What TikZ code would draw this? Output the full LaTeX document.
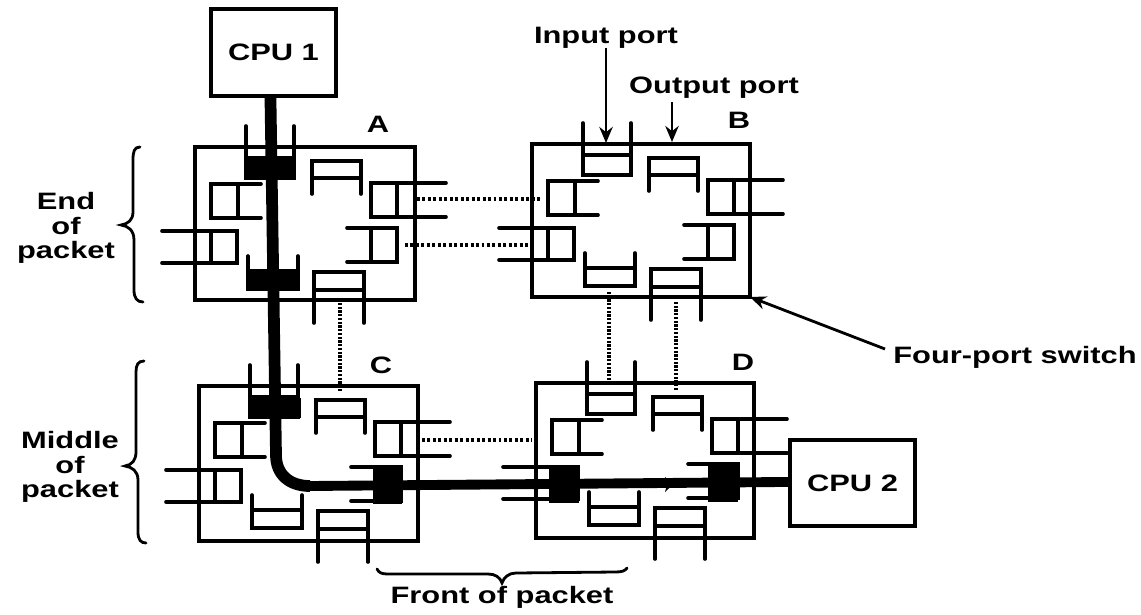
\documentclass[tikz,border=0pt]{standalone}
\usepackage{fontspec}
\setmainfont[FakeStretch=1.3]{Liberation Sans}
\usetikzlibrary{arrows.meta}
\tikzset{
  switchbox/.style={draw=black,line width=2.5pt,inner sep=0pt,outer sep=0pt,anchor=north west,minimum width=#1},
  cpubox/.style={draw=black,line width=2.5pt,inner sep=0pt,outer sep=0pt,align=center,font=\lbl},
  portline/.style={draw=black,line width=2.7pt,line cap=round},
  portfill/.style={fill=black},
  packet/.style={draw=black,line width=8.8pt},
  packetthin/.style={draw=black,line width=7.4pt},
  dotsh/.style={draw=black,line width=2.7pt,dash pattern=on 2.2pt off 1.9pt},
  dotsv/.style={draw=black,line width=2.8pt,dash pattern=on 1.7pt off 1.1pt},
  callout/.style={draw=black,line width=2.1pt,-{Stealth[length=12pt,width=10pt]}},
  brc/.style={draw=black,line width=2.1pt,line cap=round},
  lbl/.style={inner sep=0pt,outer sep=0pt,font=\lbl},
  lblup/.style={inner sep=0pt,outer sep=0pt,anchor=base,font=\lbl},
  stack/.style={inner sep=0pt,outer sep=0pt,align=center,font=\lbl}
}
\newcommand{\lbl}{\fontsize{17.8}{18.4}\selectfont\bfseries}
% #1 name, #2 x, #3 y, #4 width px, #5 height px
\newcommand{\mkswitch}[5]{%
  \node[switchbox=#4*0.75pt,minimum height=#5*0.75pt] (#1) at (#2,#3) {};
  \begin{scope}[shift={(#2,#3)}]
    % top outer (input)
    \draw[portline] (51,-21) -- (51,31) -- (99,31) -- (99,-21) (51,11) -- (99,11);
    % top inner
    \draw[portline] (117,47) -- (117,14) -- (166,14) -- (166,47) (117,31) -- (166,31);
    % left inner
    \draw[portline] (66,37) -- (16,37) -- (16,71) -- (66,71) (43,37) -- (43,71);
    % left outer
    \draw[portline] (-33,84) -- (42,84) -- (42,116) -- (-33,116) (16,84) -- (16,116);
    % right outer
    \draw[portline] (251,36) -- (176,36) -- (176,70) -- (251,70) (202,36) -- (202,70);
    % right inner
    \draw[portline] (152,81) -- (202,81) -- (202,115) -- (152,115) (176,81) -- (176,115);
    % bottom inner
    \draw[portline] (53,109) -- (53,142) -- (103,142) -- (103,109) (53,124) -- (103,124);
    % bottom outer
    \draw[portline] (119,176) -- (119,125) -- (169,125) -- (169,176) (119,143) -- (169,143);
  \end{scope}}
\begin{document}
\begin{tikzpicture}[x=0.75pt,y=-0.75pt]
\useasboundingbox (0,0) rectangle (1141,614);

% switches
\mkswitch{swA}{195}{147}{220}{153}
\mkswitch{swB}{532}{144}{218}{153}
\mkswitch{swC}{199}{386}{219}{155}
\mkswitch{swD}{536}{383}{218}{155}

% CPUs
\node[cpubox,minimum width=93.75pt,minimum height=65.25pt] (cpuA) at (273.5,52.5) {CPU 1};
\node[cpubox,minimum width=93.75pt,minimum height=64.5pt] (cpuB) at (852.5,483) {CPU 2};

% switch letters
\node[lblup] (lA) at (378,132) {A};
\node[lblup] (lB) at (739,128) {B};
\node[lblup] (lC) at (381,373) {C};
\node[lblup] (lD) at (743,370) {D};

% dotted links
\coordinate (abT1) at (417,199); \coordinate (abT2) at (540,199);
\coordinate (abB1) at (405,245); \coordinate (abB2) at (532,245);
\coordinate (ac1) at (340,303); \coordinate (ac2) at (340,392);
\coordinate (bdL1) at (609,292); \coordinate (bdL2) at (609,382);
\coordinate (bdR1) at (676,302); \coordinate (bdR2) at (676,390);
\coordinate (cd1) at (422,440); \coordinate (cd2) at (532,440);
\draw[dotsh] (abT1) -- (abT2);
\draw[dotsh] (abB1) -- (abB2);
\draw[dotsh] (cd1) -- (cd2);
\draw[dotsv] (ac1) -- (ac2);
\draw[dotsv] (bdL1) -- (bdL2);
\draw[dotsv] (bdR1) -- (bdR2);

% filled buffers
\fill[portfill] (246,158) rectangle (296,178);
\fill[portfill] (248,271) rectangle (300,290);
\fill[portfill] (249,398) rectangle (301,418);
\fill[portfill] (373,468) rectangle (402,504);
\fill[portfill] (549,467) rectangle (579,503);
\fill[portfill] (708,466) rectangle (738,502);

% packet path
\coordinate (bendA) at (276,455);
\coordinate (bendB) at (310,486);
\draw[packet] ([xshift=-2.3pt]cpuA.south) -- (bendA) .. controls (276,475) and (290,486) .. (bendB);
\draw[packetthin] (bendB) -- ([yshift=0.8pt]cpuB.west);
\fill[black] (673,484.5) -- (665,477) -- (667,484.5) -- (665,492) -- cycle;

% callouts
\node[lblup] (tIn) at (606,43) {Input port};
\node[lblup] (tOut) at (714,93) {Output port};
\node[lblup] (tFour) at (1015,363) {Four-port switch};
\coordinate (inTip) at (606,143);
\coordinate (outFrom) at (672,102);
\coordinate (outTip) at (672,142);
\coordinate (fourFrom) at (885,349);
\draw[callout] (tIn.south) -- (inTip);
\draw[callout] (outFrom) -- (outTip);
\draw[callout] (fourFrom) -- (swB.south east);

% braces and their labels
\node[stack] (tEnd) at (66,228) {End\\of\\packet};
\node[stack] (tMid) at (70,467) {Middle\\of\\packet};
\node[lblup] (tFront) at (502,603) {Front of packet};
\coordinate (brE) at (121,225);
\coordinate (brM) at (125,466);
\coordinate (brF) at (502,583);
\draw[brc] (140,147) .. controls (134,147) and (133,152) .. (133,160) -- (133,212) .. controls (133,220) and (128,224) .. (brE)
           .. controls (128,226) and (134,230) .. (134,240) -- (134,290) .. controls (134,298) and (137,302) .. (143,302);
\draw[brc] (144,361) .. controls (138,361) and (136,365) .. (136,372) -- (136,452) .. controls (136,460) and (132,465) .. (brM)
           .. controls (132,467) and (138,471) .. (138,480) -- (138,532) .. controls (138,540) and (141,543) .. (146,543);
\draw[brc] (377,569) .. controls (379,573) and (382,574) .. (388,574) -- (488,574) .. controls (495,574) and (500,577) .. (brF)
           .. controls (504,577) and (509,573) .. (516,573) -- (615,572) .. controls (622,572) and (625,571) .. (627,568);
\end{tikzpicture}
\end{document}
